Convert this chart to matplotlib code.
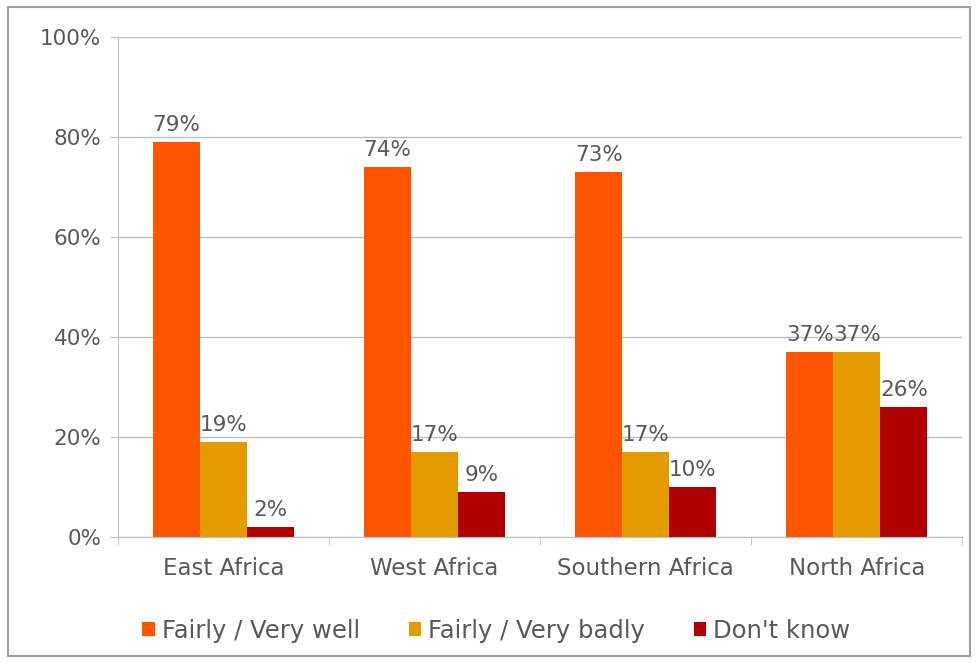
import matplotlib.pyplot as plt
import numpy as np
from matplotlib.patches import Rectangle

# Data
regions = ['East Africa', 'West Africa', 'Southern Africa', 'North Africa']
well = [79, 74, 73, 37]
badly = [19, 17, 17, 37]
dont_know = [2, 9, 10, 26]
series = [('Fairly / Very well', well, '#FF5500'),
          ('Fairly / Very badly', badly, '#E39B00'),
          ("Don't know", dont_know, '#B00000')]
yticks = [0, 20, 40, 60, 80, 100]

plt.rcParams['font.family'] = ['DejaVu Sans']
text_c = '#595959'

# Layout
fig = plt.figure(figsize=(9.76, 6.64), dpi=100)
ax = fig.add_axes([0.121, 0.191, 0.865, 0.753])
fig.patches.append(Rectangle((0.008, 0.012), 0.986, 0.978, transform=fig.transFigure,
                             fill=False, edgecolor='#A0A0A0', lw=1.5))

# Plot
x = np.arange(len(regions))
w = 0.223
for i, (name, vals, col) in enumerate(series):
    pos = x + (i - 1) * w
    ax.bar(pos, vals, width=w, color=col, label=name)
    for xp, v in zip(pos, vals):
        ax.text(xp, v + 1.4, f'{v}%', ha='center', va='bottom', fontsize=15.5, color=text_c)

# Details
ax.set_xlim(-0.5, len(regions) - 0.5)
ax.set_ylim(0, 100)
ax.set_yticks(yticks)
ax.set_yticklabels([f'{t}%' for t in yticks], fontsize=15.5, color=text_c)
ax.set_xticks(x)
ax.set_xticklabels(regions, fontsize=16.5, color=text_c)
ax.tick_params(axis='x', length=0, pad=14)
ax.tick_params(axis='y', length=6, color='#BFBFBF', pad=6)
ax.set_xticks(np.arange(-0.5, len(regions)), minor=True)
ax.tick_params(axis='x', which='minor', length=6, color='#BFBFBF')
ax.yaxis.grid(True, color='#BFBFBF', lw=1)
ax.set_axisbelow(True)
for s in ['top', 'right']:
    ax.spines[s].set_visible(False)
for s in ['left', 'bottom']:
    ax.spines[s].set_color('#BFBFBF')

leg = ax.legend(loc='upper center', bbox_to_anchor=(0.448, -0.12), ncol=3, frameon=False,
                fontsize=17.5, handlelength=0.5, handleheight=0.5, handletextpad=0.3,
                columnspacing=2.0)
for t in leg.get_texts():
    t.set_color(text_c)

# Save
fig.savefig('out.png', dpi=100)
